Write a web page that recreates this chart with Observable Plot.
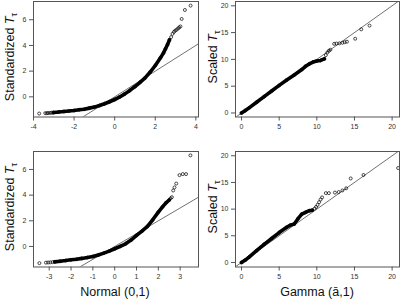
<!DOCTYPE html>
<html><head><meta charset="utf-8">
<script src="https://cdn.jsdelivr.net/npm/d3@7"></script>
<script src="https://cdn.jsdelivr.net/npm/@observablehq/plot@0.6"></script>
<style>
html,body{margin:0;padding:0;background:#fff;}
#wrap{position:relative;width:400px;height:302px;overflow:hidden;font-family:"Liberation Sans",Arial,sans-serif;}
.pn{position:absolute;}
</style></head><body><div id="wrap"></div>
<script>
// Panel 1: Normal QQ, top
const p1x = [-3.72,-3.42,-3.35,-3.28,-3.2,-3.12,-3.05,-3.0,-2.75,-2.5,-2.25,-2.0,-1.75,-1.5,-1.25,-1.0,-0.75,-0.5,-0.25,0,0.25,0.5,0.75,1.0,1.25,1.5,1.75,2.0,2.25,2.4,2.5,2.6,2.7,2.78,2.85,2.92,2.98,3.05,3.12,3.18,3.24,3.3,3.46,3.74];
const p1y = [-1.3,-1.27,-1.27,-1.26,-1.25,-1.24,-1.23,-1.22,-1.18,-1.14,-1.1,-1.06,-1.01,-0.96,-0.88,-0.8,-0.68,-0.54,-0.38,-0.21,-0.01,0.23,0.5,0.8,1.13,1.48,1.93,2.44,3.03,3.4,3.73,4.05,4.43,4.65,4.9,5.05,5.15,5.22,5.32,5.4,5.48,6.06,6.76,7.1];
const p1dense = [7, 33];
// Panel 2: Gamma QQ, top
const p2x = [0,0.5,1,2,3,4,5,6,7,8,8.5,9,9.5,10,10.5,11,11.2,11.4,11.6,11.8,12.3,12.6,13.0,13.4,13.7,14.0,15.1,15.9,17.0];
const p2y = [0,0.45,0.95,2.0,3.05,4.1,5.15,6.15,7.1,8.1,8.7,9.15,9.5,9.7,9.8,10.1,10.8,11.3,11.6,11.8,12.9,12.95,13.0,13.1,13.2,13.3,13.85,15.6,16.3];
const p2dense = [0, 16];
// Panel 3: Normal QQ, bottom
const p3x = [-3.45,-3.15,-3.05,-2.95,-2.85,-2.75,-2.5,-2.25,-2.0,-1.75,-1.5,-1.25,-1.0,-0.75,-0.5,-0.25,0,0.25,0.5,0.75,1.0,1.25,1.5,1.75,2.0,2.2,2.35,2.5,2.56,2.62,2.68,2.74,2.82,2.97,3.12,3.27,3.47];
const p3y = [-1.3,-1.26,-1.25,-1.24,-1.22,-1.2,-1.15,-1.1,-1.04,-0.99,-0.93,-0.86,-0.78,-0.66,-0.52,-0.36,-0.18,0.0,0.21,0.5,0.86,1.2,1.56,2.1,2.68,3.1,3.4,3.62,3.75,3.84,4.36,4.6,4.9,5.56,5.64,5.64,7.1];
const p3dense = [5, 28];
// Panel 4: Gamma QQ, bottom
const p4x = [0,0.5,1,2,3,4,5,6,6.5,7,7.5,8,8.5,9,9.4,9.7,9.9,10.1,10.3,10.5,10.7,11.2,11.6,12.4,12.9,13.4,13.9,14.5,16.2,20.8];
const p4y = [0,0.45,1.0,2.2,3.4,4.5,5.6,6.6,7.0,7.2,8.2,9.06,9.4,9.7,9.8,10.1,10.4,10.8,11.3,11.8,12.2,13.0,13.0,13.1,13.2,13.5,13.9,15.75,16.4,17.7];
const p4dense = [0, 15];

const normTicks = [-4,-2,0,2,4];
const normTicks2 = [-3,-2,-1,0,1,2,3];
const stdTicks = [0,2,4,6];
const gamTicks = [0,5,10,15,20];
// reference line y = a + b x
const refA = 0, refB = 1;

const FONT = '"Liberation Sans", Arial, sans-serif';

function panel(o){
  const pts = o.xs.map((x,i)=>({x, y:o.ys[i]}));
  const dense = pts.slice(o.dense[0], o.dense[1]);
  const ref = o.xDomain.map(x=>({x, y: refA + refB*x}));
  const ch = Plot.plot({
    width: 200, height: o.h,
    marginLeft: o.ml, marginRight: o.mr, marginTop: o.mt, marginBottom: o.mb,
    x: {domain: o.xDomain},
    y: {domain: o.yDomain},
    style: {fontFamily: FONT, fontSize: "7px", color: "#333", background: "transparent"},
    marks: [
      Plot.axisX({ticks: o.xTicks, tickSize: 4, tickPadding: 3, label: null, stroke: "#555", tickFormat: d => String(d)}),
      Plot.axisY({ticks: o.yTicks, tickSize: 4, tickPadding: 3, label: null, stroke: "#555", tickFormat: d => String(d)}),
      Plot.line(ref, {x: "x", y: "y", stroke: "#333", strokeWidth: 0.7, clip: true}),
      Plot.line(dense, {x: "x", y: "y", stroke: "#000", strokeWidth: 3.6, strokeLinecap: "round", strokeLinejoin: "round", clip: true}),
      Plot.dot(pts, {x: "x", y: "y", r: 1.5, stroke: "#000", strokeWidth: 0.7, fill: "none", clip: true}),
      Plot.frame({stroke: "#555", strokeWidth: 1})
    ]
  });
  const div = document.createElement("div");
  div.className = "pn";
  div.style.left = o.left + "px"; div.style.top = o.top + "px";
  div.appendChild(ch);
  document.getElementById("wrap").appendChild(div);
  const svg = d3.select(ch);
  // y title
  const t = svg.append("text")
    .attr("transform", `translate(${o.ytx},${o.yty}) rotate(-90)`)
    .attr("text-anchor", "middle")
    .attr("font-family", FONT).attr("font-size", 12.5).attr("fill", "#111");
  t.append("tspan").text(o.ylab + " ");
  t.append("tspan").attr("font-style", "italic").text("T");
  t.append("tspan").attr("font-size", 9).attr("dy", 3).text("τ");
  if (o.xlab) {
    svg.append("text").attr("x", o.xtx).attr("y", o.xty)
      .attr("text-anchor", "middle")
      .attr("font-family", FONT).attr("font-size", 12.5).attr("fill", "#111")
      .text(o.xlab);
  }
}

panel({xs:p1x, ys:p1y, dense:p1dense, xDomain:[-4.0,4.13], yDomain:[-1.57,7.42], xTicks:normTicks, yTicks:stdTicks,
  h:150, ml:33, mr:2, mt:1, mb:33.5, left:0, top:0, ylab:"Standardized", ytx:14, yty:57});
panel({xs:p2x, ys:p2y, dense:p2dense, xDomain:[-0.8,20.98], yDomain:[-0.75,20.8], xTicks:gamTicks, yTicks:gamTicks,
  h:150, ml:35, mr:1, mt:1, mb:33.5, left:200, top:0, ylab:"Scaled", ytx:17, yty:57});
panel({xs:p3x, ys:p3y, dense:p3dense, xDomain:[-3.72,3.84], yDomain:[-1.6,7.4], xTicks:normTicks2, yTicks:stdTicks,
  h:152, ml:33, mr:2, mt:1, mb:35.5, left:0, top:150, ylab:"Standardized", ytx:14, yty:57, xlab:"Normal (0,1)", xtx:115, xty:146});
panel({xs:p4x, ys:p4y, dense:p4dense, xDomain:[-0.8,20.98], yDomain:[-0.85,20.8], xTicks:gamTicks, yTicks:gamTicks,
  h:152, ml:35, mr:1, mt:1, mb:35.5, left:200, top:150, ylab:"Scaled", ytx:17, yty:57, xlab:"Gamma (ā,1)", xtx:117, xty:146});
</script></body></html>
